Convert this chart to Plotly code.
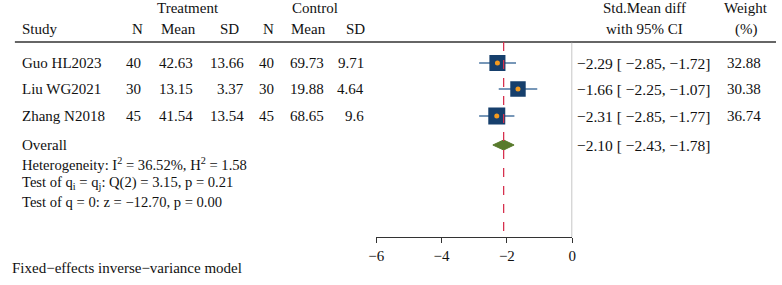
import plotly.graph_objects as go

# ---------------- data ----------------
studies = ["Guo HL2023", "Liu WG2021", "Zhang N2018"]
treat_n = [40, 30, 45]
treat_mean = ["42.63", "13.15", "41.54"]
treat_sd = ["13.66", "3.37", "13.54"]
ctrl_n = [40, 30, 45]
ctrl_mean = ["69.73", "19.88", "68.65"]
ctrl_sd = ["9.71", "4.64", "9.6"]
smd = [-2.29, -1.66, -2.31]
ci_lo = [-2.85, -2.25, -2.85]
ci_hi = [-1.72, -1.07, -1.77]
weights = [32.88, 30.38, 36.74]
overall_est = -2.10
overall_lo = -2.43
overall_hi = -1.78
x_ticks = [-6, -4, -2, 0]
stats_lines = [
    "Heterogeneity: I<sup>2</sup> = 36.52%, H<sup>2</sup> = 1.58",
    "Test of q<sub>i</sub> = q<sub>j</sub>: Q(2) = 3.15, p = 0.21",
    "Test of q = 0: z = \u221212.70, p = 0.00",
]
footnote = "Fixed\u2212effects inverse\u2212variance model"

# ---------------- layout constants ----------------
W, H = 782, 285
FONT = "Liberation Serif"
FS = 15
row_y = [63, 89, 116]
overall_y = 145
stats_y = [164, 183, 202]
foot_y = 268
header1_y = 8
header2_y = 29
rule_y = 42
axis_y = 237
x_left_px, x_right_px = 374, 573


def fmt(v):
    s = f"{v:.2f}"
    return s.replace("-", "\u2212")


fig = go.Figure()

# confidence-interval lines
for i in range(len(studies)):
    fig.add_trace(go.Scatter(
        x=[ci_lo[i], ci_hi[i]], y=[row_y[i], row_y[i]], mode="lines",
        line=dict(color="#4a74a0", width=1.6), hoverinfo="skip", showlegend=False))

# weighted squares
sizes = [2.8 * (w ** 0.5) for w in weights]
fig.add_trace(go.Scatter(
    x=smd, y=row_y, mode="markers",
    marker=dict(symbol="square", size=sizes, color="#163f6c", opacity=1, line=dict(width=0)),
    showlegend=False, hoverinfo="skip"))
# orange centre dots
fig.add_trace(go.Scatter(
    x=smd, y=row_y, mode="markers",
    marker=dict(symbol="circle", size=5, color="#f39a1e", opacity=1, line=dict(width=0)),
    showlegend=False, hoverinfo="skip"))

# overall diamond
dh = 5
fig.add_trace(go.Scatter(
    x=[overall_lo, overall_est, overall_hi, overall_est, overall_lo],
    y=[overall_y, overall_y - dh, overall_y, overall_y + dh, overall_y],
    mode="lines", fill="toself", fillcolor="#587a2c",
    line=dict(color="#587a2c", width=1), showlegend=False, hoverinfo="skip"))

shapes = [
    dict(type="line", xref="paper", yref="y", x0=7 / W, x1=780 / W, y0=rule_y, y1=rule_y,
         line=dict(color="#333333", width=1.6)),
    dict(type="line", xref="x", yref="y", x0=0, x1=0, y0=rule_y, y1=axis_y,
         line=dict(color="#9a9a9a", width=1.2)),
    dict(type="line", xref="x", yref="y", x0=overall_est, x1=overall_est, y0=rule_y, y1=axis_y,
         line=dict(color="#d6304e", width=1.3, dash="dash")),
]

ann = []


def text(x, y, t, anchor="left", size=FS):
    ann.append(dict(x=x / W, y=y, xref="paper", yref="y", text=t, showarrow=False,
                    xanchor=anchor, yanchor="middle",
                    font=dict(family=FONT, size=size, color="#111111")))


# headers
text(183, header1_y, "Treatment", "center")
text(312, header1_y, "Control", "center")
text(646, header1_y, "Std.Mean diff", "center")
text(750, header1_y, "Weight", "center")
text(12, header2_y, "Study")
text(132, header2_y, "N", "center")
text(173, header2_y, "Mean", "center")
text(225, header2_y, "SD", "center")
text(265, header2_y, "N", "center")
text(305, header2_y, "Mean", "center")
text(353, header2_y, "SD", "center")
text(646, header2_y, "with 95% CI", "center")
text(750, header2_y, "(%)", "center")

for i, s in enumerate(studies):
    y = row_y[i]
    text(12, y, s)
    text(137, y, str(treat_n[i]), "right")
    text(190, y, treat_mean[i], "right")
    text(242, y, treat_sd[i], "right")
    text(272, y, str(ctrl_n[i]), "right")
    text(323, y, ctrl_mean[i], "right")
    text(364, y, ctrl_sd[i], "right")
    text(576, y, f"{fmt(smd[i])} [ {fmt(ci_lo[i])}, {fmt(ci_hi[i])}]", size=15.5)
    text(767, y, f"{weights[i]:.2f}", "right")

text(12, overall_y, "Overall")
text(576, overall_y, f"{fmt(overall_est)} [ {fmt(overall_lo)}, {fmt(overall_hi)}]", size=15.5)
for y, t in zip(stats_y, stats_lines):
    text(12, y, t, size=14.6)
text(2, foot_y, footnote)

fig.update_layout(
    width=W, height=H, margin=dict(l=0, r=0, t=0, b=0),
    paper_bgcolor="white", plot_bgcolor="white",
    shapes=shapes, annotations=ann, showlegend=False,
    xaxis=dict(domain=[x_left_px / W, x_right_px / W], range=[-6, 0],
               anchor="free", position=1 - axis_y / H,
               showline=True, linecolor="#333333", linewidth=1.2,
               ticks="outside", ticklen=5, tickcolor="#333333", tickwidth=1.2,
               tickvals=x_ticks, ticktext=[str(v).replace("-", "\u2212") for v in x_ticks],
               tickfont=dict(family=FONT, size=FS, color="#111111"),
               showgrid=False, zeroline=False, fixedrange=True),
    yaxis=dict(domain=[0, 1], range=[H, 0], visible=False, fixedrange=True),
)

fig.write_html(
    "out.html",
    config={"displayModeBar": False},
    post_script="document.body.style.margin='0';document.body.style.overflow='hidden';",
)
